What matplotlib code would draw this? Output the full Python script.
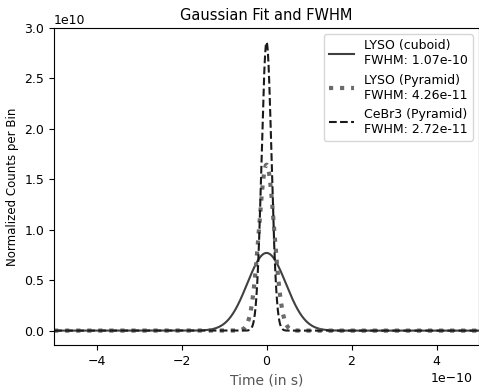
import numpy as np
import matplotlib
matplotlib.use("Agg")
import matplotlib.pyplot as plt

plt.rcParams["font.size"] = 9

labels = ["LYSO (cuboid)", "LYSO (Pyramid)", "CeBr3 (Pyramid)"]
fwhm = [1.07e-10, 4.26e-11, 2.72e-11]
peaks = [0.77e10, 1.645e10, 2.86e10]
centers = [0.0, 0.0, 0.0]

styles = [dict(color="#404040", linestyle="-", linewidth=1.5),
          dict(color="#6a6a6a", linestyle=":", linewidth=3.0),
          dict(color="#1a1a1a", linestyle="--", linewidth=1.5)]

fig = plt.figure(figsize=(4.79, 3.89), dpi=100)
ax = fig.add_axes([0.113, 0.113, 0.887, 0.815])

t = np.linspace(-5e-10, 5e-10, 2001)
for lab, fw, pk, c, st in zip(labels, fwhm, peaks, centers, styles):
    sigma = fw / (2 * np.sqrt(2 * np.log(2)))
    y = pk * np.exp(-0.5 * ((t - c) / sigma) ** 2)
    ax.plot(t, y, label=f"{lab}\nFWHM: {fw:.2e}", **st)

ax.set_xlim(-5e-10, 5e-10)
ax.set_ylim(-0.143e10, 3.0e10)
ax.set_title("Gaussian Fit and FWHM", fontsize=10.5)
ax.set_xlabel("Time (in s)", fontsize=10, color="#555555")
ax.set_ylabel("Normalized Counts per Bin", fontsize=8.5)
ax.tick_params(labelsize=9)
ax.xaxis.get_offset_text().set_fontsize(9)
ax.yaxis.get_offset_text().set_fontsize(9)
ax.xaxis.get_offset_text().set_horizontalalignment("right")
ax.legend(loc="upper right", fontsize=9, handlelength=2.0)
fig.savefig("out.png", dpi=100)
fig.canvas.draw()
ot = ax.xaxis.get_offset_text()
ot.set_x(0.985)
fig.savefig("out.png", dpi=100)
